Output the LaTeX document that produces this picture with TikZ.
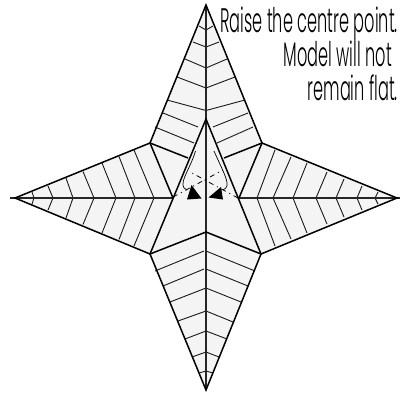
\documentclass[tikz,border=0pt]{standalone}
\usepackage{fontspec}
\newfontfamily\capfont[FakeStretch=0.475]{Poppins Light}
\tikzset{
  thickline/.style={line width=1.5pt,black,line join=miter},
  crease/.style={line width=0.9pt,black!90},
  spine/.style={line width=1.3pt,black!85},
  caption/.style={anchor=base east,inner sep=0pt,font=\capfont\fontsize{34}{34}\selectfont},
  turn/.style={line width=0.7pt,black},
  fold/.style={line width=0.8pt,black,dash pattern=on 5pt off 4pt on 1pt off 4pt}
}
\begin{document}
\begin{tikzpicture}[x=1pt,y=-1pt]
\useasboundingbox (0,0) rectangle (402,394);
\fill[white] (0,0) rectangle (402,394);
% star
\fill[black!4.5] (206,5)--(150,143)--(15,198)--(150,254)--(206,390)--(261,254)--(397,198)--(262,143)--cycle;
% top arm creases
\foreach \a/\b/\c/\d in {199/26/206/30,193/42/206/47,185/59/206/68,177/77/206/88,167/100/206/110.5,163/113/198/127,155/127/194/143}
  \draw[crease] (\a,\b)--(\c,\d);
\foreach \a/\b/\c/\d in {213/26/206/30,219/42/206/47,227/59/206/68,235/77/206/88,245/100/206/110.5,248/113/213/127,253/127/217/143}
  \draw[crease] (\a,\b)--(\c,\d);
% bottom arm creases
\foreach \a/\b/\c/\d in {155/271/204/251,163/286/204/269,170/302/206/288,178/321/206/311,185/339/206/331,192/357/206/352,199/373/206/371,255/271/206/251,248/286/206/269,241/302/206/288,233/322/206/311,227/339/206/331,219/357/206/352,213/373/206/371}
  \draw[crease] (\a,\b)--(\c,\d);
% left arm creases
\foreach \s/\e/\y in {154/134/150,135/119/156.5,116/102/163,94/83/171.5,73/66/178,53/48/186,34/32/192}{
  \draw[crease] (\s,198)--(\e,\y);
  \draw[crease] (\s,198)--(\e,396-\y);
}
% right arm creases
\foreach \s/\e/\y in {257/275/150,273/291/157,293/307/163,316/327/172,336/344/179,357/362/186,375/378/192}{
  \draw[crease] (\s,198)--(\e,\y);
  \draw[crease] (\s,198)--(\e,396-\y);
}
% spines
\draw[spine] (206,5)--(206,390);
\draw[spine] (10,198)--(173,198);
\draw[spine] (239,198)--(400,198);
% outline
\draw[thickline] (206,5)--(150,143)--(15,198)--(150,254)--(206,390)--(261,254)--(397,198)--(262,143)--cycle;
\draw[thickline] (150,254)--(206,119)--(261,254);
\draw[thickline] (150,143)--(173,198);
\draw[thickline] (262,143)--(239,198);
\draw[thickline] (150,143)--(188,158);
\draw[thickline] (262,143)--(224,158);
\draw[thickline] (150,254)--(206,232)--(261,254);
% movement
\draw[fold] (238,198)--(192,173);
\draw[fold] (173,197)--(223,170);
\draw[turn] (195.5,151) .. controls (190,170) and (176,186) .. (187,190);
\draw[turn] (214,151) .. controls (225,176) and (232,186) .. (223,190);
\fill[black] (191.5,185)--(201.5,198.5)--(187,199.5)--cycle;
\fill[black] (221,187)--(208.5,197.5)--(223,199.5)--cycle;
% text
\node[caption] (l1) at (398,32) {Raise the centre point.};
\node[caption] (l2) at (392,66) {Model will not};
\node[caption] (l3) at (398,100) {remain flat.};
\end{tikzpicture}
\end{document}
